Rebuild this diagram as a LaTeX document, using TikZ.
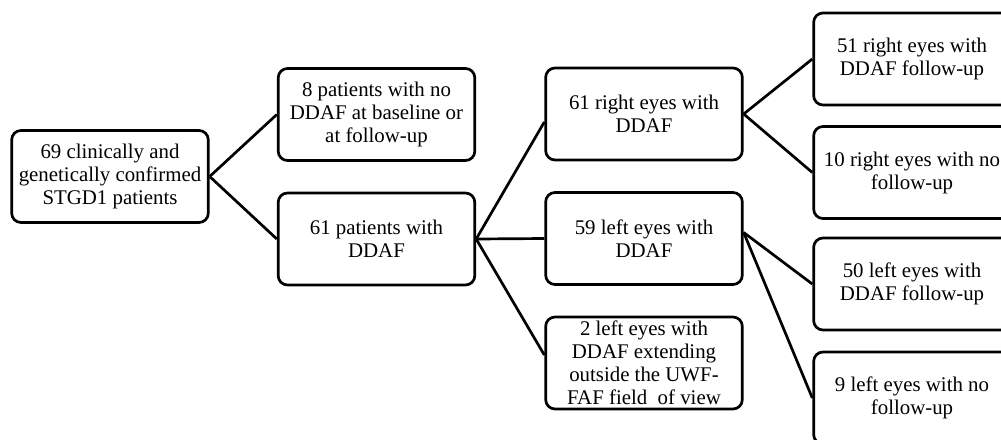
\documentclass[tikz,border=0pt]{standalone}
\usepackage{fontspec}
\setmainfont{Liberation Serif}
\usetikzlibrary{calc}
\begin{document}
\begin{tikzpicture}[x=0.03cm,y=-0.03cm,
  box/.style={draw=black, line width=2.3pt, rounded corners=8pt, align=center,
    inner sep=0pt, minimum width=5.9cm, minimum height=2.76cm,
    font=\fontsize{17.8}{19.6}\selectfont},
  link/.style={draw=black, line width=2.3pt}]
\useasboundingbox (0,0) rectangle (1001,439);
\clip (0,0) rectangle (1001,439);
\node[box] (A) at (110,176.5) {69 clinically and\\genetically confirmed\\STGD1 patients};
\node[box] (B) at (376.5,114.5) {8 patients with no\\DDAF at baseline or\\at follow-up};
\node[box] (C) at (376.5,239) {61 patients with\\DDAF};
\node[box] (D) at (644,114) {61 right eyes with\\DDAF};
\node[box] (G) at (644,238.5) {59 left eyes with\\DDAF};
\node[box] (H) at (644,363) {2 left eyes with\\DDAF extending\\outside the UWF-\\FAF field\ \ of view};
\node[box] (E) at (912,59) {51 right eyes with\\DDAF follow-up};
\node[box] (F) at (912,172.5) {10 right eyes with no\\follow-up};
\node[box] (I) at (912,284) {50 left eyes with\\DDAF follow-up};
\node[box] (J) at (912,398) {9 left eyes with no\\follow-up};
\draw[link] (A.east) -- (B.west);
\draw[link] (A.east) -- (C.west);
\draw[link] (C.east) -- ($(D.west)+(0,8)$);
\draw[link] (C.east) -- (G.west);
\draw[link] (C.east) -- ($(H.west)+(0,-8)$);
\draw[link] (D.east) -- (E.west);
\draw[link] (D.east) -- (F.west);
\draw[link] ($(G.east)+(0,-6)$) -- (I.west);
\draw[link] ($(G.east)+(0,-6)$) -- (J.west);
\end{tikzpicture}
\end{document}
